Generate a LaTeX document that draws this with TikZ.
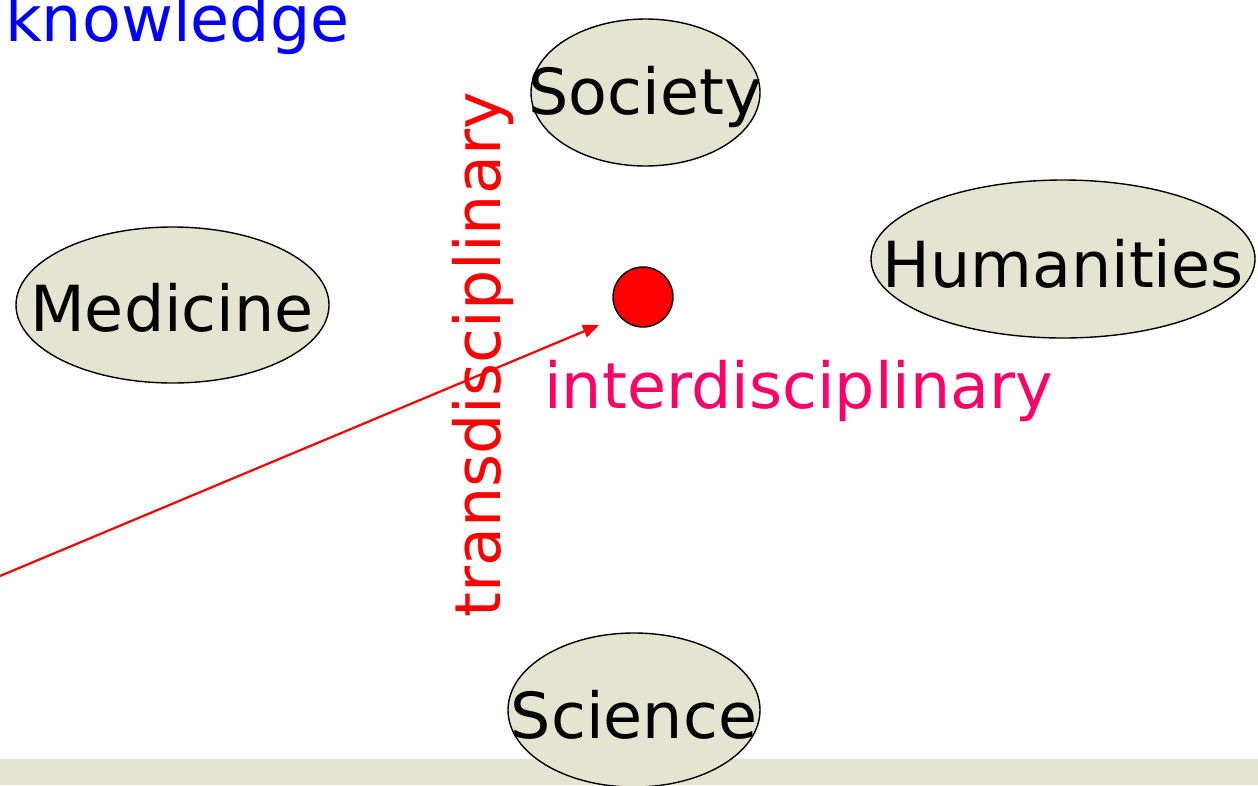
\documentclass[tikz,border=0pt]{standalone}
\usepackage{fontspec}
\setmainfont{DejaVu Sans}
\usetikzlibrary{shapes.geometric,arrows.meta}
\definecolor{khaki}{HTML}{E5E4D0}
\definecolor{pinkred}{HTML}{FF0066}
\tikzset{
  blob/.style={ellipse,draw=black,line width=1.4pt,fill=khaki,inner sep=0pt},
  big/.style={font=\fontsize{63.5}{70}\selectfont,inner sep=0pt,anchor=base},
}
\begin{document}
\begin{tikzpicture}[x=1pt,y=-1pt]
\useasboundingbox (0,0) rectangle (1258,785);
\fill[khaki] (0,759) rectangle (1258,785);
% ellipses
\node[blob,minimum width=229pt,minimum height=147pt] (soc) at (645.5,92.5) {};
\node[blob,minimum width=313pt,minimum height=156pt] (med) at (172.5,305) {};
\node[blob,minimum width=384pt,minimum height=158pt] (hum) at (1063,259) {};
\node[blob,minimum width=252pt,minimum height=154pt] (sci) at (634,710) {};
% labels
\node[big] (socl) at (645,114) {Society};
\node[big] (medl) at (172,331) {Medicine};
\node[big] (huml) at (1063,287) {Humanities};
\node[big] (scil) at (634,738) {Science};
\node[big,text=blue,anchor=base west] (know) at (5,41) {knowledge};
\node[big,text=pinkred,anchor=base west] (inter) at (544,408) {interdisciplinary};
\node[big,text=red,rotate=90,anchor=base] (trans) at (500,355) {transdisciplinary};
% dot
\node[circle,draw=black,line width=1.4pt,fill=red,minimum size=60pt,inner sep=0pt] (dot) at (643,297) {};
% arrow
\coordinate (astart) at (0,576);
\coordinate (aend) at (599,325);
\draw[red,line width=2.2pt,-{Triangle[length=16pt,width=13pt]}] (astart) -- (aend);
\end{tikzpicture}
\end{document}
